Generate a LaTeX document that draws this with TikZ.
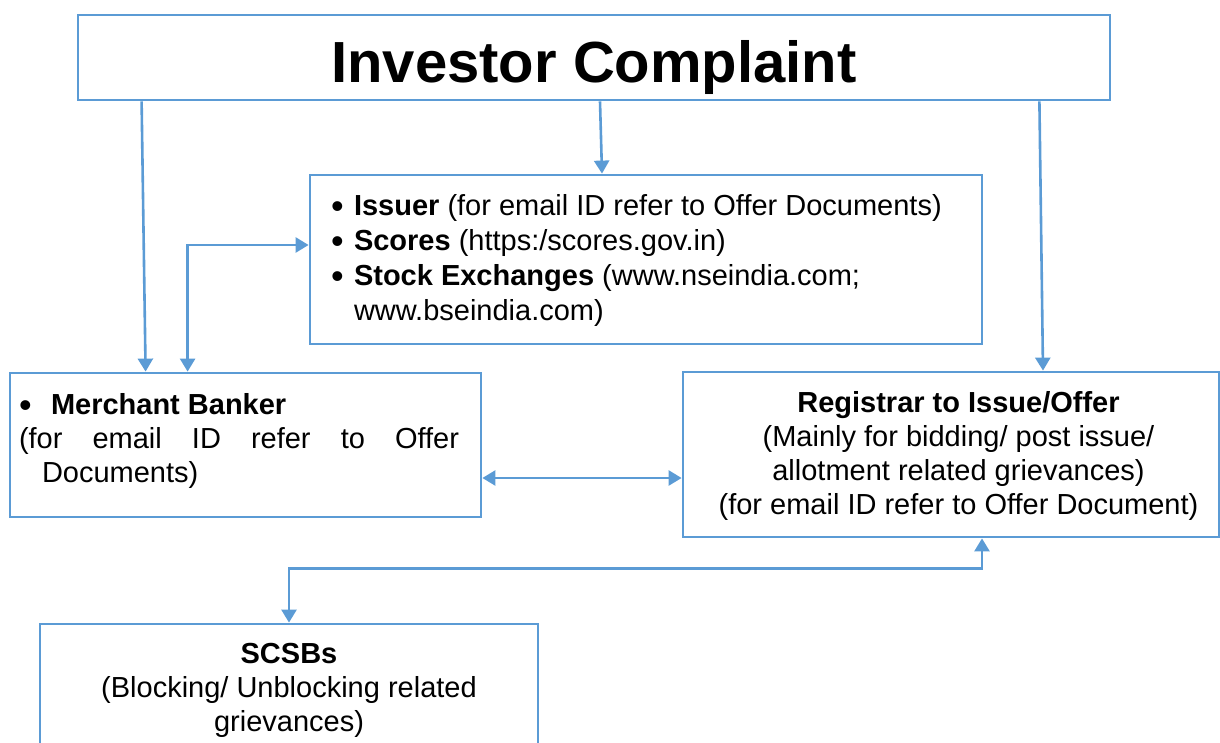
\documentclass[tikz,border=0pt]{standalone}
\usepackage{fontspec}
\setmainfont{Liberation Sans}
\usetikzlibrary{positioning, arrows.meta}
\definecolor{lineblue}{HTML}{5B9BD5}
\newcommand{\bigdot}{\raisebox{-1.6pt}{\fontsize{18}{18}\selectfont\textbullet}}
\tikzset{box/.style={draw=lineblue,line width=1.4pt,inner sep=0pt},
         txt/.style={inner sep=0pt,font=\fontsize{14.5}{17}\selectfont},
         link/.style={draw=lineblue,line width=1.3pt,-{Triangle[length=6.5pt,width=7.5pt]}},
         dlink/.style={link,{Triangle[length=6.5pt,width=7.5pt]}-{Triangle[length=6.5pt,width=7.5pt]}}}

\begin{document}
\begin{tikzpicture}[x=0.5pt,y=-0.5pt]
        \useasboundingbox (0,0) rectangle (1220,743);
        \clip (0,0) rectangle (1220,743);
        \node[box,minimum width=516pt,minimum height=42.5pt](cmp)at(594,57.5){};
        \node[box,minimum width=336pt,minimum height=84.5pt](chn)at(646,259.5){};
        \node[box,minimum width=235.5pt,minimum height=72pt](mb)at(245.5,445){};
        \node[box,minimum width=268pt,minimum height=82.5pt](rta)at(951,454.5){};
        \node[box,minimum width=249pt,minimum height=85pt](scsb)at(289,709){};

        \node[txt,anchor=base,font=\bfseries\fontsize{29}{34}\selectfont](cmptxt)at([yshift=9.5pt]cmp.south){Investor Complaint};
        \node[txt,align=left,font=\fontsize{14.5}{17.5}\selectfont,below right=10pt and 11pt of chn.north west](chntxt){%
            \makebox[11.5pt][l]{\bigdot}\textbf{Issuer} (for email ID refer to Offer Documents)\\
            \makebox[11.5pt][l]{\bigdot}\textbf{Scores} (https:/scores.gov.in)\\
            \makebox[11.5pt][l]{\bigdot}\textbf{Stock Exchanges} (www.nseindia.com;\\
            \hspace*{11.5pt}www.bseindia.com)};
        \node[txt,align=left,below right=10.5pt and 5pt of mb.north west](mbtxt){%
            \makebox[16pt][l]{\bigdot}\textbf{Merchant Banker}\\
            \makebox[220pt][s]{(for email ID refer to Offer}\\
            \hspace*{11.5pt}Documents)};
        \node[txt,align=center,below=10pt of rta.north,xshift=3.75pt](rtatxt){%
            \textbf{Registrar to Issue/Offer}\\(Mainly for bidding/ post issue/\\allotment related grievances)\\(for email ID refer to Offer Document)};
        \node[txt,align=center,below=10pt of scsb.north](scsbtxt){%
            \textbf{SCSBs}\\(Blocking/ Unblocking related\\grievances)};

        \draw[link]([xshift=32.5pt]cmp.south west)--([xshift=68.5pt]mb.north west);
        \draw[link]([xshift=3pt]cmp.south)--([xshift=-22pt]chn.north);
        \draw[link]([xshift=-36pt]cmp.south east)--([xshift=46pt]rta.north);
        \draw[dlink]([xshift=89.5pt]mb.north west)|-([yshift=7.25pt]chn.west);
        \draw[dlink]([yshift=-16.5pt]mb.east)--([yshift=-11.75pt]rta.west);
        \draw[dlink]([xshift=15.5pt]rta.south)--++(0,30)-|(scsb.north);
    \end{tikzpicture}
\end{document}
